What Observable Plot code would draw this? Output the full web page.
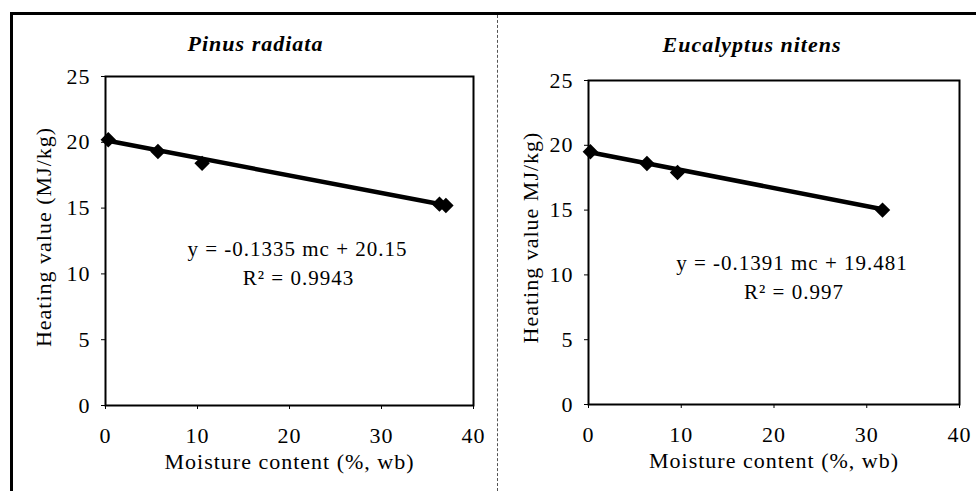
<!DOCTYPE html>
<html><head><meta charset="utf-8">
<script src="https://cdn.jsdelivr.net/npm/d3@7"></script>
<script src="https://cdn.jsdelivr.net/npm/@observablehq/plot@0.6"></script>
<style>
body{margin:0;background:#fff;}
#fig{position:relative;width:976px;height:491px;overflow:hidden;font-family:"Liberation Serif","Times New Roman",serif;}
#border{position:absolute;left:10px;top:12px;width:980px;height:500px;border-top:3px solid #000;border-left:3px solid #000;}
#divider{position:absolute;left:497px;top:15px;height:476px;border-left:1px dashed #555;}
.panel{position:absolute;top:0;}
</style></head>
<body><div id="fig"><div id="border"></div><div id="divider"></div><div class="panel" id="left" style="left:0px"></div><div class="panel" id="right" style="left:490px"></div></div>
<script>
// Data
const pinusMC = [0.3, 5.7, 10.5, 36.3, 37.0];
const pinusHV = [20.2, 19.3, 18.4, 15.3, 15.2];
const eucMC = [0.2, 6.3, 9.6, 31.7];
const eucHV = [19.5, 18.6, 17.9, 15.0];
const fitSlope = [-0.1335, -0.1391];
const fitIntercept = [20.15, 19.481];
const titles = ["Pinus radiata", "Eucalyptus nitens"];
const equations = ["y = -0.1335 mc + 20.15", "y = -0.1391 mc + 19.481"];
const r2Values = ["R\u00B2 = 0.9943", "R\u00B2 = 0.997"];
const yLabels = ["Heating value (MJ/kg)", "Heating value MJ/kg)"];
const xLabel = "Moisture content (%, wb)";
const xTicks = [0, 10, 20, 30, 40];
const yTicks = [0, 5, 10, 15, 20, 25];

const layouts = [
  {width: 490, ml: 105, mr: 17, mt: 76, mb: 86, titleDx: -34, titleDy: -33, yLabelDx: -62, yLabelDy: -4, eqDx: 8, eqDy: 8, r2Dx: 9, r2Dy: 37},
  {width: 486, ml: 98, mr: 17, mt: 80, mb: 87, titleDx: -22, titleDy: -36, yLabelDx: -58, yLabelDy: -5, eqDx: 18, eqDy: 21, r2Dx: 20, r2Dy: 50}
];

function panel(i, mc, hv) {
  const L = layouts[i];
  const pts = mc.map((x, j) => ({x, y: hv[j]}));
  const fitX = [0, d3.max(mc)];
  const fit = fitX.map(x => ({x, y: fitSlope[i] * x + fitIntercept[i]}));
  return Plot.plot({
    width: L.width, height: 491,
    marginLeft: L.ml, marginRight: L.mr, marginTop: L.mt, marginBottom: L.mb,
    style: {fontFamily: "'Liberation Serif', 'Times New Roman', serif", fontSize: "21px", letterSpacing: "1px", background: "transparent", color: "#000"},
    x: {domain: [0, 40]},
    y: {domain: [0, 25]},
    marks: [
      Plot.frame({stroke: "#000", strokeWidth: 2}),
      Plot.axisX({ticks: xTicks, tickSize: 4, tickPadding: 18, label: null, tickFormat: d => String(d), fontSize: 22}),
      Plot.axisY({ticks: yTicks, tickSize: 4, tickPadding: 11, label: null, tickFormat: d => String(d), fontSize: 22}),
      Plot.line(fit, {x: "x", y: "y", stroke: "#000", strokeWidth: 4.5}),
      Plot.dot(pts, {x: "x", y: "y", symbol: "diamond2", r: 6, fill: "#000", stroke: "#000"}),
      Plot.text([titles[i]], {frameAnchor: "top", lineAnchor: "middle", dx: L.titleDx, dy: L.titleDy, fontWeight: "bold", fontStyle: "italic", fontSize: 22}),
      Plot.text([yLabels[i]], {frameAnchor: "left", textAnchor: "middle", lineAnchor: "middle", dx: L.yLabelDx, dy: L.yLabelDy, rotate: -90, fontSize: 22}),
      Plot.text([xLabel], {frameAnchor: "bottom", lineAnchor: "middle", dy: 56, fontSize: 22}),
      Plot.text([equations[i]], {frameAnchor: "middle", dx: L.eqDx, dy: L.eqDy, fontSize: 21}),
      Plot.text([r2Values[i]], {frameAnchor: "middle", dx: L.r2Dx, dy: L.r2Dy, fontSize: 21})
    ]
  });
}

document.getElementById("left").append(panel(0, pinusMC, pinusHV));
document.getElementById("right").append(panel(1, eucMC, eucHV));
</script>
</body></html>
